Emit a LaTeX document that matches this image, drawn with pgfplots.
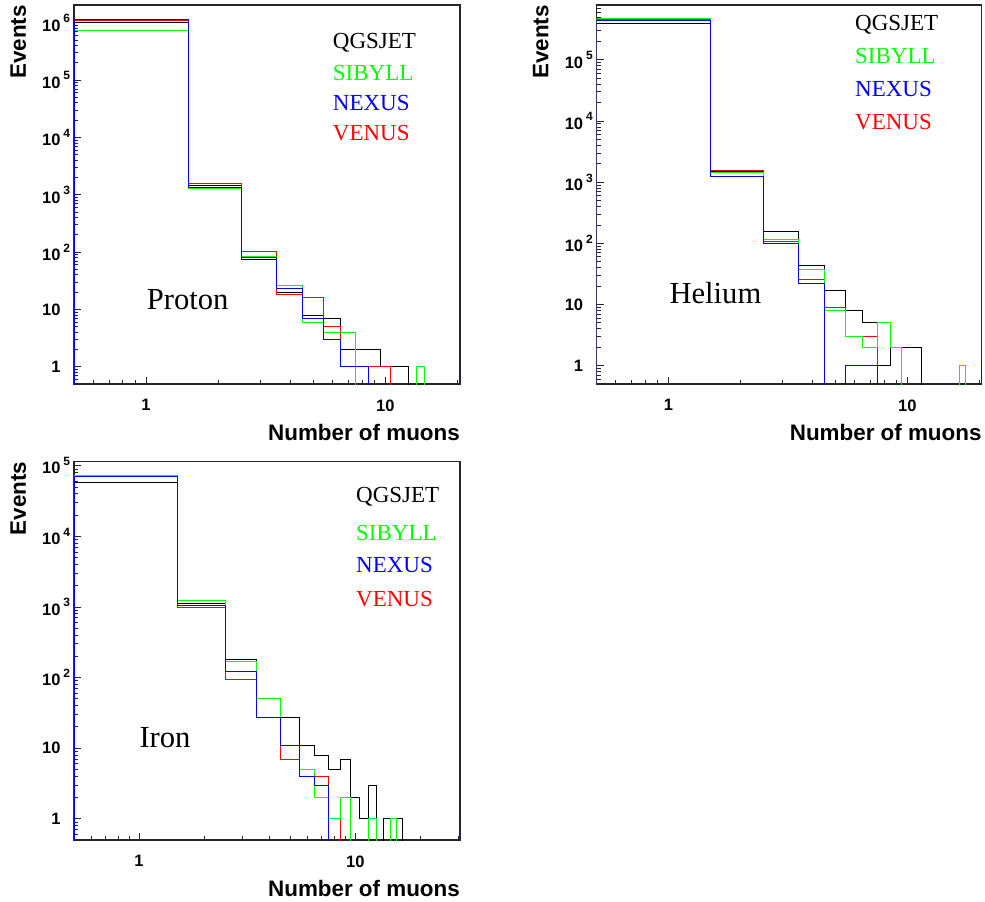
\documentclass[border=0pt]{standalone}
\usepackage{fontspec}
\usepackage{pgfplots}
\pgfplotsset{compat=1.18}
\setmainfont{Liberation Serif}
\newfontfamily\hv{Liberation Sans}

\definecolor{hgreen}{RGB}{0,255,0}
\definecolor{hblue}{RGB}{0,0,255}
\definecolor{hred}{RGB}{255,0,0}

\newcommand\tickfont{\hv\bfseries\fontsize{16.5}{18}\selectfont}
\newcommand\titlefont{\hv\bfseries\fontsize{22.4}{25}\selectfont}
\newcommand\legfont{\fontsize{23}{26}\selectfont}
\newcommand\namefont{\fontsize{30.6}{34}\selectfont}
% power-of-ten label: the exponent hangs to the right of the "10"
\newcommand\pten[1]{\mbox{10\rlap{\hspace{3pt}\raisebox{8.3pt}{\fontsize{12}{12}\selectfont #1}}}}

\pgfplotsset{
  every axis/.append style={
    scale only axis,
    ymin=0.5,
    axis line style={line width=1.2pt, black!85},
    tick align=inside,
    xtick pos=left, ytick pos=left,
    major tick length=7pt, minor tick length=4pt,
    every tick/.style={line width=0.8pt, black!85},
    xtick={1,10}, xticklabels={\mbox{1},\mbox{10}},
    minor xtick={0.6,0.7,0.8,0.9,2,3,4,5,6,7,8,9,20,30},
    ytick={1,10,100,1000,10000,100000,1000000},
    yticklabels={\mbox{1},\mbox{10},\pten{2},\pten{3},\pten{4},\pten{5},\pten{6}},
    minor ytick={0.6,0.7,0.8,0.9,2,3,4,5,6,7,8,9,20,30,40,50,60,70,80,90,
      200,300,400,500,600,700,800,900,2000,3000,4000,5000,6000,7000,8000,9000,
      2e4,3e4,4e4,5e4,6e4,7e4,8e4,9e4,2e5,3e5,4e5,5e5,6e5,7e5,8e5,9e5,2e6},
    xticklabel style={font=\tickfont, yshift=-12pt},
    yticklabel style={font=\tickfont, xshift=-10pt},
    xlabel={Number of muons},
    ylabel={Events},
    xlabel style={font=\titlefont, at={(axis description cs:1,0)}, anchor=base east, inner sep=0pt, yshift=-56pt},
    ylabel style={font=\titlefont, anchor=base east, inner sep=0pt},
  },
  qgs/.style={const plot mark left, black, line width=0.9pt, mark=none},
  sib/.style={const plot mark left, hgreen, line width=1pt, mark=none},
  nex/.style={const plot mark left, hblue, line width=0.9pt, mark=none},
  ven/.style={const plot mark left, hred, line width=0.9pt, mark=none},
}

\begin{document}
\begin{tikzpicture}
\path[use as bounding box] (0pt,0pt) rectangle (985pt,-902pt);

% ---------------- Proton ----------------
\begin{axis}[xmode=log, ymode=log, anchor=north west,
  at={(74pt,-5pt)}, width=386pt, height=379pt,
  xmin=0.5, xmax=20.5, ymax=2.04e6,
  ylabel style={at={(axis description cs:-0.1244,1)}}]
\addplot[qgs] coordinates {(0.5,0.01)(0.5,1.0e6)(1.5,1440)(2.5,75)(3.5,20)(4.5,8)(5.5,7)(6.5,2)(7.5,2)(8.5,2)(9.5,1)(10.5,1)(11.5,1)(12.5,0.01)};
\addplot[ven] coordinates {(0.5,0.01)(0.5,1.08e6)(1.5,1580)(2.5,104)(3.5,18)(4.5,16)(5.5,5)(6.5,1)(7.5,1)(8.5,1)(9.5,1)(10.5,0.01)};
\addplot[sib] coordinates {(0.5,0.01)(0.5,7.4e5)(1.5,1260)(2.5,85)(3.5,26)(4.5,6)(5.5,4)(6.5,4)(7.5,0.01)(13.5,1)(14.5,0.01)};
\addplot[nex] coordinates {(0.5,0.01)(0.5,1.15e6)(1.5,1320)(2.5,80)(3.5,23)(4.5,7)(5.5,3)(6.5,1)(7.5,1)(8.5,0.01)(20.5,1)};
\end{axis}

% ---------------- Helium ----------------
\begin{axis}[xmode=log, ymode=log, anchor=north west,
  at={(596.7pt,-5pt)}, width=385pt, height=379pt,
  xmin=0.5, xmax=20.5, ymax=7.9e5,
  ylabel style={at={(axis description cs:-0.1257,1)}}]
\addplot[qgs] coordinates {(0.5,0.01)(0.5,4.0e5)(1.5,1500)(2.5,155)(3.5,44)(4.5,17)(5.5,8)(6.5,5)(7.5,1)(8.5,2)(9.5,2)(10.5,2)(11.5,0.01)};
\addplot[ven] coordinates {(0.5,0.01)(0.5,4.6e5)(1.5,1580)(2.5,107)(3.5,26)(4.5,9)(5.5,3)(6.5,3)(7.5,0.01)};
\addplot[sib] coordinates {(0.5,0.01)(0.5,4.7e5)(1.5,1440)(2.5,114)(3.5,38)(4.5,8)(5.5,3)(6.5,2)(7.5,5)(8.5,2)(9.5,0.01)(16.5,1)(17.5,0.01)};
\addplot[nex] coordinates {(0.5,0.01)(0.5,4.35e5)(1.5,1260)(2.5,100)(3.5,22)(4.5,0.01)(5.5,1)(6.5,1)(7.5,0.01)(20.5,1)};
\end{axis}

% ---------------- Iron ----------------
\begin{axis}[xmode=log, ymode=log, anchor=north west,
  at={(74pt,-461.7pt)}, width=386pt, height=378.3pt,
  xmin=0.5, xmax=30.5, ymax=1.14e5,
  ylabel style={at={(axis description cs:-0.1244,1)}}]
\addplot[qgs] coordinates {(0.5,0.01)(0.5,5.8e4)(1.5,1130)(2.5,179)(3.5,51)(4.5,27)(5.5,11)(6.5,8)(7.5,5)(8.5,7)(9.5,2)(10.5,1)(11.5,3)(12.5,0.01)(13.5,1)(14.5,1)(15.5,1)(16.5,0.01)};
\addplot[ven] coordinates {(0.5,0.01)(0.5,7.2e4)(1.5,973)(2.5,95)(3.5,27)(4.5,7)(5.5,5)(6.5,4)(7.5,1)(8.5,0.01)};
\addplot[sib] coordinates {(0.5,0.01)(0.5,7.3e4)(1.5,1240)(2.5,171)(3.5,51)(4.5,11)(5.5,5)(6.5,2)(7.5,1)(8.5,2)(9.5,0.01)(11.5,1)(12.5,0.01)(14.5,1)(15.5,0.01)};
\addplot[nex] coordinates {(0.5,0.01)(0.5,7.1e4)(1.5,1040)(2.5,123)(3.5,27)(4.5,11)(5.5,4)(6.5,3)(7.5,0.01)(30.5,1)};
\end{axis}

% model names and primaries
\begin{scope}[every node/.style={anchor=base west, inner sep=0pt, font=\legfont}]
\node[text=black]  at (332.7pt,-48.3pt) {QGSJET};
\node[text=hgreen] at (332.7pt,-80pt)   {SIBYLL};
\node[text=hblue]  at (332.7pt,-110pt)  {NEXUS};
\node[text=hred]   at (332.7pt,-140pt)  {VENUS};

\node[text=black]  at (855pt,-30pt)    {QGSJET};
\node[text=hgreen] at (855pt,-63.3pt)  {SIBYLL};
\node[text=hblue]  at (855pt,-96.7pt)  {NEXUS};
\node[text=hred]   at (855pt,-129.3pt) {VENUS};

\node[text=black]  at (356pt,-502.7pt) {QGSJET};
\node[text=hgreen] at (356pt,-540pt)   {SIBYLL};
\node[text=hblue]  at (356pt,-572.7pt) {NEXUS};
\node[text=hred]   at (356pt,-606.7pt) {VENUS};

\node[font=\namefont] at (146.7pt,-309.3pt) {Proton};
\node[font=\namefont] at (669.3pt,-303.3pt) {Helium};
\node[font=\namefont] at (139.3pt,-747.7pt) {Iron};
\end{scope}
\end{tikzpicture}
\end{document}
